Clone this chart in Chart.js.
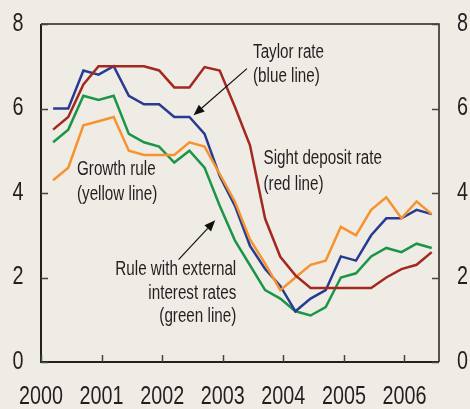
<!DOCTYPE html>
<html><head><meta charset="utf-8">
<script src="https://cdn.jsdelivr.net/npm/chart.js@4/dist/chart.umd.min.js"></script>
<style>
html,body{margin:0;padding:0;background:#efece6;}
#wrap{width:470px;height:409px;position:relative;}
canvas{display:block;}
</style></head><body>
<div id="wrap"><canvas id="c" width="470" height="409"></canvas></div>
<script>
// ---- data ----
const quarters = ["2000Q1","2000Q2","2000Q3","2000Q4","2001Q1","2001Q2","2001Q3","2001Q4",
  "2002Q1","2002Q2","2002Q3","2002Q4","2003Q1","2003Q2","2003Q3","2003Q4",
  "2004Q1","2004Q2","2004Q3","2004Q4","2005Q1","2005Q2","2005Q3","2005Q4","2006Q1","2006Q2"];
const sightDeposit = [5.5,5.8,6.57,7.0,7.0,7.0,7.0,6.9,6.5,6.5,6.98,6.9,6.04,5.13,3.39,2.49,2.05,1.75,1.75,1.75,1.75,1.75,2.0,2.2,2.3,2.6];
const taylor       = [6.0,6.0,6.9,6.8,7.0,6.3,6.1,6.1,5.8,5.8,5.4,4.4,3.7,2.75,2.2,1.8,1.2,1.5,1.7,2.5,2.4,3.0,3.4,3.4,3.6,3.5];
const growthRule   = [4.3,4.6,5.6,5.7,5.8,5.0,4.9,4.9,4.9,5.2,5.1,4.45,3.8,2.9,2.33,1.7,2.0,2.3,2.4,3.2,3.0,3.6,3.9,3.4,3.8,3.5];
const externalRule = [5.2,5.5,6.3,6.2,6.3,5.4,5.2,5.1,4.72,5.0,4.6,3.7,2.88,2.29,1.7,1.5,1.2,1.1,1.3,2.0,2.1,2.5,2.7,2.6,2.8,2.7];
const yearTicks = [2000,2001,2002,2003,2004,2005,2006];
const valueTicks = [0,2,4,6,8];

const FONT = "'Liberation Sans',Arial,sans-serif";
const TXT = '#231f20';

function qx(q){ const y=+q.slice(0,4), n=+q.slice(5); return y + (n-1)*0.25 + 0.2; }
const xs = quarters.map(qx);
const pts = arr => arr.map((v,i)=>({x:xs[i], y:v}));

const notes = [
  {lines:["Taylor rate","(blue line)"], x:2003.50, y:[7.205,6.62], align:'left'},
  {lines:["Growth rule","(yellow line)"], x:2000.594, y:[4.42,3.84], align:'left'},
  {lines:["Sight deposit rate","(red line)"], x:2003.673, y:[4.696,4.08], align:'left'},
  {lines:["Rule with external","interest rates","(green line)"], x:2003.223, y:[2.052,1.50,0.95], align:'right'}
];
const arrows = [
  {from:[2003.40,6.944], to:[2002.518,5.839]},
  {from:[2002.271,2.424], to:[2002.876,3.354]}
];

// emulate a narrow (condensed) face by horizontal compression
function narrowText(ctx, t, px, py, align, baseline, k){
  ctx.save(); ctx.translate(px, py); ctx.scale(k, 1);
  ctx.textAlign = align; ctx.textBaseline = baseline; ctx.fillText(t, 0, 0); ctx.restore();
}

const decor = {
  id:'decor',
  afterDatasetsDraw(chart){
    const {ctx, chartArea:a, scales:{x, y}} = chart;
    ctx.save();
    ctx.strokeStyle = TXT; ctx.lineCap='butt';
    // frame
    ctx.lineWidth = 1.5;
    ctx.beginPath(); ctx.moveTo(a.left, a.top); ctx.lineTo(a.right, a.top); ctx.lineTo(a.right, a.bottom); ctx.stroke();
    ctx.lineWidth = 2;
    ctx.beginPath(); ctx.moveTo(a.left, a.top); ctx.lineTo(a.left, a.bottom); ctx.lineTo(a.right, a.bottom); ctx.stroke();
    // inward ticks
    ctx.lineWidth = 1.5; ctx.strokeStyle = '#444';
    valueTicks.forEach(v=>{
      const py = Math.round(y.getPixelForValue(v))+0.5;
      ctx.beginPath(); ctx.moveTo(a.left, py); ctx.lineTo(a.left+7, py);
      ctx.moveTo(a.right, py); ctx.lineTo(a.right-7, py); ctx.stroke();
    });
    yearTicks.forEach(v=>{
      const px = Math.round(x.getPixelForValue(v))+0.5;
      ctx.beginPath(); ctx.moveTo(px, a.bottom); ctx.lineTo(px, a.bottom-7); ctx.stroke();
    });
    // tick labels
    ctx.fillStyle = TXT; ctx.font = '25px ' + FONT;
    valueTicks.forEach(v=>{
      const py = y.getPixelForValue(v);
      narrowText(ctx, String(v), a.left - 17.5, py, 'right', 'middle', 0.79);
      narrowText(ctx, String(v), a.right + 18, py, 'left', 'middle', 0.79);
    });
    yearTicks.forEach(v=>{
      narrowText(ctx, String(v), x.getPixelForValue(v), a.bottom + 35.5, 'center', 'middle', 0.79);
    });
    // annotations
    ctx.font = '19.5px ' + FONT;
    notes.forEach(n=>{
      n.lines.forEach((t,i)=> narrowText(ctx, t, x.getPixelForValue(n.x), y.getPixelForValue(n.y[i]), n.align, 'alphabetic', 0.78));
    });
    // arrows
    ctx.strokeStyle = '#111'; ctx.fillStyle='#111'; ctx.lineWidth = 1.2;
    arrows.forEach(ar=>{
      const x0=x.getPixelForValue(ar.from[0]), y0=y.getPixelForValue(ar.from[1]);
      const x1=x.getPixelForValue(ar.to[0]), y1=y.getPixelForValue(ar.to[1]);
      const ang = Math.atan2(y1-y0, x1-x0), L=11, W=4.5;
      const bx = x1 - L*Math.cos(ang), by = y1 - L*Math.sin(ang);
      ctx.beginPath(); ctx.moveTo(x0,y0); ctx.lineTo(bx,by); ctx.stroke();
      ctx.beginPath(); ctx.moveTo(x1,y1);
      ctx.lineTo(bx + W*Math.sin(ang), by - W*Math.cos(ang));
      ctx.lineTo(bx - W*Math.sin(ang), by + W*Math.cos(ang));
      ctx.closePath(); ctx.fill();
    });
    ctx.restore();
  }
};

const ds = (label, data, color) => ({label, data: pts(data), borderColor: color, borderWidth: 2.5,
  pointRadius: 0, tension: 0, fill: false, borderJoinStyle:'miter'});

new Chart(document.getElementById('c'), {
  type: 'line',
  data: { datasets: [
    ds('Sight deposit rate', sightDeposit, '#a3281f'),
    ds('Growth rule', growthRule, '#f7932e'),
    ds('Taylor rate', taylor, '#273b92'),
    ds('Rule with external interest rates', externalRule, '#1b9647')
  ]},
  options: {
    responsive: false, animation: false, devicePixelRatio: 1,
    layout: { padding: {top: 24, left: 0, right: 0, bottom: 0} },
    plugins: { legend: {display:false}, tooltip: {enabled:false} },
    scales: {
      x: { type:'linear', position:'bottom', min:2000, max:2006.57,
        afterBuildTicks: s => { s.ticks = yearTicks.map(v=>({value:v})); },
        afterFit: s => { s.height = 47; },
        grid: {display:false, drawTicks:false}, border: {display:false},
        ticks: {display:false} },
      y: { type:'linear', position:'left', min:0, max:8,
        afterBuildTicks: s => { s.ticks = valueTicks.map(v=>({value:v})); },
        afterFit: s => { s.width = 41; },
        grid: {display:false, drawTicks:false}, border: {display:false},
        ticks: {display:false} },
      y2: { type:'linear', position:'right', min:0, max:8,
        afterBuildTicks: s => { s.ticks = valueTicks.map(v=>({value:v})); },
        afterFit: s => { s.width = 31; },
        grid: {display:false, drawTicks:false}, border: {display:false},
        ticks: {display:false} }
    }
  },
  plugins: [decor]
});
</script>
</body></html>
